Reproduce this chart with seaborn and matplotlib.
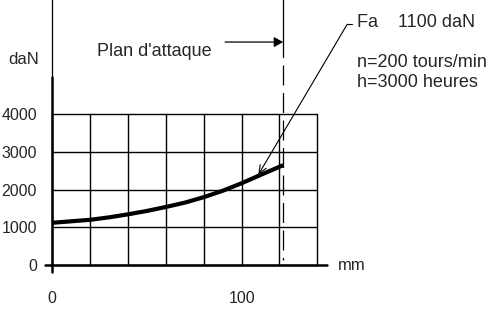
import matplotlib
matplotlib.use("Agg")
import matplotlib.pyplot as plt
import seaborn as sns

# curve (mm, daN)
position_mm = [0, 10, 20, 30, 40, 50, 60, 70, 80, 90, 100, 110, 122]
force_dan = [1120, 1160, 1200, 1265, 1345, 1435, 1540, 1655, 1800, 1970, 2170, 2390, 2650]

x_ticks = [0, 20, 40, 60, 80, 100, 120, 140]
x_labels = ["0", "", "", "", "", "100", "", ""]
y_ticks = [0, 1000, 2000, 3000, 4000]
y_labels = ["0", "1000", "2000", "3000", "4000"]

attack_plane = 122
notes = ["Fa    1100 daN", "n=200 tours/min", "h=3000 heures"]

sns.set_style("white")
plt.rcParams['font.family'] = ['Liberation Sans', 'DejaVu Sans']

fig = plt.figure(figsize=(4.96, 3.09), dpi=100)
ax = fig.add_axes([52.3 / 496, 44 / 309, 265 / 496, 150.7 / 309])

sns.lineplot(x=position_mm, y=force_dan, ax=ax, color="black", linewidth=3,
             solid_capstyle="butt", zorder=5)

ax.set_xlim(0, 140)
ax.set_ylim(0, 4000)
ax.set_xticks(x_ticks)
ax.set_xticklabels(x_labels)
ax.set_yticks(y_ticks)
ax.set_yticklabels(y_labels)
ax.set_xlabel("")
ax.set_ylabel("")
for s in ax.spines.values():
    s.set_visible(False)
ax.grid(True, color="black", linewidth=1.0, clip_on=False)
ax.tick_params(axis="x", direction="out", length=5, width=1, color="black",
               pad=14, labelsize=11.5)
ax.tick_params(axis="y", direction="out", length=5, width=1, color="black",
               pad=6, labelsize=11.5)

# axes drawn by hand so they overshoot like the original
ax.plot([-3.9, 145.3], [0, 0], color="black", lw=1.8, clip_on=False, zorder=6)
ax.plot([0, 0], [-190, 4990], color="black", lw=1.8, clip_on=False, zorder=6)
ax.plot([0, 0], [4990, 7100], color="black", lw=0.9, clip_on=False)

# attack plane: solid above, dashed through the chart (dashes start at the top)
ax.plot([attack_plane, attack_plane], [5520, 7100], color="black", lw=0.9, clip_on=False)
ax.plot([attack_plane, attack_plane], [5320, 130], color="black", lw=0.9,
        dashes=(16, 6), clip_on=False)

ax.text(-23.4, 5330, "daN", fontsize=12, va="baseline", ha="left")
ax.text(150.9, -130, "mm", fontsize=12, va="baseline", ha="left")
ax.text(23.6, 5540, "Plan d'attaque", fontsize=13, va="baseline", ha="left")
ax.annotate("", xy=(attack_plane, 5918), xytext=(91.3, 5918),
            arrowprops=dict(arrowstyle="-|>,head_length=0.55,head_width=0.3",
                            color="black", lw=0.9, shrinkA=0, shrinkB=0),
            annotation_clip=False)

ax.plot([155.8, 158.2], [6390, 6390], color="black", lw=0.8, clip_on=False)
ax.annotate("", xy=(108.8, 2390), xytext=(155.8, 6390),
            arrowprops=dict(arrowstyle="->,head_length=0.6,head_width=0.25",
                            color="black", lw=0.8, shrinkA=0, shrinkB=0),
            annotation_clip=False)

ax.text(160.9, 6325, notes[0], fontsize=13, va="baseline", ha="left")
ax.text(160.9, 5260, notes[1], fontsize=13, va="baseline", ha="left")
ax.text(160.9, 4725, notes[2], fontsize=13, va="baseline", ha="left")

fig.savefig("out.png", dpi=100)
